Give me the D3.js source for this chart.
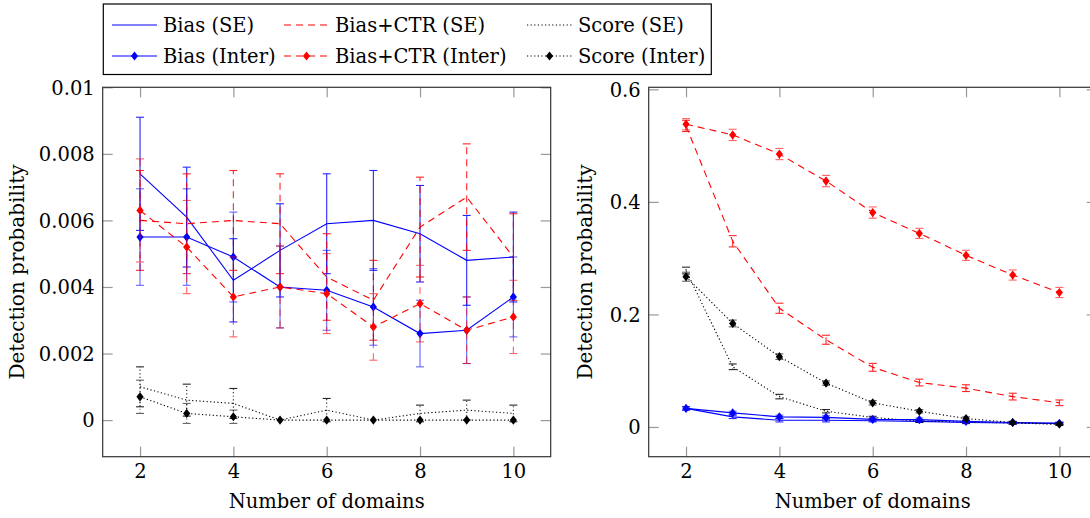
<!DOCTYPE html>
<html>
<head>
<meta charset="utf-8">
<script src="https://cdn.jsdelivr.net/npm/d3@7"></script>
<style>
  body { margin: 0; background: #fff; }
</style>
</head>
<body>
<div id="chart"></div>
<script>
const domains = [2, 3, 4, 5, 6, 7, 8, 9, 10];
const xTicks = [2, 4, 6, 8, 10];

// left panel
const leftBiasSE       = [0.0074, 0.0061, 0.0042, 0.0051, 0.0059, 0.0060, 0.0056, 0.0048, 0.0049];
const leftBiasSEErr    = [0.0017, 0.0015, 0.00125, 0.0014, 0.0015, 0.0015, 0.00145, 0.00135, 0.00135];
const leftCtrSE        = [0.0060, 0.0059, 0.0060, 0.0059, 0.0043, 0.0036, 0.0058, 0.0067, 0.0049];
const leftCtrSEErr     = [0.0015, 0.0015, 0.0015, 0.0015, 0.0013, 0.0012, 0.0015, 0.0016, 0.0013];
const leftScoreSE      = [0.0010, 0.0006, 0.0005, 0, 0.0003, 0, 0.0002, 0.0003, 0.0002];
const leftScoreSEErr   = [0.0006, 0.00048, 0.00045, 0, 0.00035, 0, 0.00025, 0.0003, 0.00025];
const leftBiasInter    = [0.0055, 0.0055, 0.0049, 0.0040, 0.0039, 0.0034, 0.0026, 0.0027, 0.0037];
const leftBiasInterErr = [0.00145, 0.00145, 0.00135, 0.00123, 0.0012, 0.00115, 0.0010, 0.0010, 0.0012];
const leftCtrInter     = [0.0063, 0.0052, 0.0037, 0.0040, 0.0038, 0.0028, 0.0035, 0.0027, 0.0031];
const leftCtrInterErr  = [0.00155, 0.0014, 0.0012, 0.00123, 0.0012, 0.0010, 0.00115, 0.0010, 0.0011];
const leftScoreInter   = [0.0007, 0.0002, 0.0001, 0, 0, 0, 0, 0, 0];
const leftScoreInterErr= [0.0005, 0.0003, 0.0002, 0, 0, 0, 0, 0, 0];
const leftYTicks = [0, 0.002, 0.004, 0.006, 0.008, 0.01];
const leftYTickLabels = ["0", "0.002", "0.004", "0.006", "0.008", "0.01"];

// right panel
const rightBiasSE       = [0.033, 0.018, 0.012, 0.012, 0.011, 0.010, 0.008, 0.007, 0.0065];
const rightBiasSEErr    = [0.003, 0.003, 0.003, 0.003, 0.002, 0.002, 0.002, 0.002, 0.002];
const rightCtrSE        = [0.535, 0.330, 0.211, 0.155, 0.106, 0.079, 0.069, 0.054, 0.043];
const rightCtrSEErr     = [0.010, 0.010, 0.009, 0.008, 0.007, 0.006, 0.006, 0.006, 0.005];
const rightScoreSE      = [0.278, 0.107, 0.054, 0.028, 0.017, 0.0105, 0.009, 0.007, 0.005];
const rightScoreSEErr   = [0.006, 0.005, 0.004, 0.003, 0.002, 0.002, 0.002, 0.002, 0.002];
const rightBiasInter    = [0.033, 0.025, 0.018, 0.017, 0.0135, 0.013, 0.010, 0.008, 0.0065];
const rightBiasInterErr = [0.003, 0.003, 0.003, 0.003, 0.003, 0.003, 0.002, 0.002, 0.002];
const rightCtrInter     = [0.538, 0.519, 0.485, 0.437, 0.381, 0.344, 0.305, 0.270, 0.239];
const rightCtrInterErr  = [0.010, 0.010, 0.010, 0.010, 0.010, 0.009, 0.009, 0.009, 0.009];
const rightScoreInter   = [0.267, 0.184, 0.125, 0.078, 0.043, 0.028, 0.015, 0.008, 0.005];
const rightScoreInterErr= [0.008, 0.006, 0.005, 0.004, 0.004, 0.003, 0.003, 0.002, 0.002];
const rightYTicks = [0, 0.2, 0.4, 0.6];
const rightYTickLabels = ["0", "0.2", "0.4", "0.6"];

const legendLabels = ["Bias (SE)", "Bias+CTR (SE)", "Score (SE)",
                      "Bias (Inter)", "Bias+CTR (Inter)", "Score (Inter)"];

// styles for the six series, in legend order
const styles = [
  {color: "#0000ff", dash: null,      mark: false},
  {color: "#ff0000", dash: "7,5",     mark: false},
  {color: "#000000", dash: "1.2,2.4", mark: false},
  {color: "#0000ff", dash: null,      mark: true},
  {color: "#ff0000", dash: "7,5",     mark: true},
  {color: "#000000", dash: "1.2,2.4", mark: true}
];

const serif = "DejaVu Serif";
const width = 1090, height = 518;
const svg = d3.select("#chart").append("svg")
  .attr("width", width).attr("height", height)
  .attr("font-family", serif);

const diamond = "M0,-4.6L3.6,0L0,4.6L-3.6,0Z";

function panel(opts) {
  const x = d3.scaleLinear().domain([1.2, 10.8]).range([opts.left, opts.left + 448]);
  const y = d3.scaleLinear().domain(opts.yDomain).range([456.7, 87.3]);
  const g = svg.append("g");

  // ticks point inward on all four sides
  const tickStyle = sel => {
    sel.attr("font-family", serif).attr("font-size", 19.5);
    sel.select(".domain").remove();
    sel.selectAll(".tick line").attr("stroke", "#999").attr("stroke-width", 1.2);
  };
  g.append("g").attr("transform", "translate(0,456.7)")
    .call(d3.axisBottom(x).tickValues(xTicks).tickSizeInner(-10).tickSizeOuter(0).tickPadding(0))
    .call(tickStyle)
    .call(s => s.selectAll("text").attr("dy", null).attr("y", 21.5));
  g.append("g").attr("transform", "translate(0,87.3)")
    .call(d3.axisTop(x).tickValues(xTicks).tickSizeInner(-10).tickSizeOuter(0).tickFormat(""))
    .call(tickStyle);
  g.append("g").attr("transform", `translate(${opts.left},0)`)
    .call(d3.axisLeft(y).tickValues(opts.yTicks).tickSizeInner(-10).tickSizeOuter(0).tickPadding(8)
      .tickFormat((d, i) => opts.yLabels[i]))
    .call(tickStyle)
    .call(s => s.selectAll("text").attr("dy", "0.35em"));
  g.append("g").attr("transform", `translate(${opts.left + 448},0)`)
    .call(d3.axisRight(y).tickValues(opts.yTicks).tickSizeInner(-10).tickSizeOuter(0).tickFormat(""))
    .call(tickStyle);

  g.append("rect")
    .attr("x", opts.left).attr("y", 87.3).attr("width", 448).attr("height", 369.4)
    .attr("fill", "none").attr("stroke", "#333").attr("stroke-width", 1.2);

  const line = d3.line().x(d => x(d.x)).y(d => y(d.v));
  opts.series.forEach((s, k) => {
    const st = styles[k];
    const pts = domains.map((d, i) => ({x: d, v: s.v[i], e: s.e[i]}));
    const sg = g.append("g");
    const eb = sg.append("g")
      .attr("stroke", st.color).attr("stroke-width", 1.1)
      .attr("stroke-dasharray", st.dash)
      .attr("opacity", st.mark ? 0.6 : 0.85);
    pts.filter(p => p.e > 0).forEach(p => {
      eb.append("line").attr("x1", x(p.x)).attr("x2", x(p.x))
        .attr("y1", y(p.v - p.e)).attr("y2", y(p.v + p.e));
      [p.v - p.e, p.v + p.e].forEach(c => {
        eb.append("line").attr("x1", x(p.x) - 4).attr("x2", x(p.x) + 4)
          .attr("y1", y(c)).attr("y2", y(c)).attr("stroke-dasharray", "none");
      });
    });
    sg.append("path").datum(pts).attr("d", line)
      .attr("fill", "none").attr("stroke", st.color).attr("stroke-width", 1.1)
      .attr("stroke-dasharray", st.dash);
    if (st.mark) {
      sg.selectAll("path.mk").data(pts).enter().append("path").attr("class", "mk")
        .attr("d", diamond).attr("fill", st.color)
        .attr("transform", p => `translate(${x(p.x)},${y(p.v)})`);
    }
  });

  g.append("text").attr("x", opts.left + 224).attr("y", 508)
    .attr("text-anchor", "middle").attr("font-size", 19.5).text("Number of domains");
  g.append("text").attr("transform", `translate(${opts.labelX},272) rotate(-90)`)
    .attr("text-anchor", "middle").attr("font-size", 20).text("Detection probability");
}

panel({
  left: 102.7, yDomain: [-0.0011, 0.01], yTicks: leftYTicks, yLabels: leftYTickLabels, labelX: 24,
  series: [
    {v: leftBiasSE, e: leftBiasSEErr}, {v: leftCtrSE, e: leftCtrSEErr}, {v: leftScoreSE, e: leftScoreSEErr},
    {v: leftBiasInter, e: leftBiasInterErr}, {v: leftCtrInter, e: leftCtrInterErr}, {v: leftScoreInter, e: leftScoreInterErr}
  ]
});
panel({
  left: 648.7, yDomain: [-0.0528, 0.6036], yTicks: rightYTicks, yLabels: rightYTickLabels, labelX: 592,
  series: [
    {v: rightBiasSE, e: rightBiasSEErr}, {v: rightCtrSE, e: rightCtrSEErr}, {v: rightScoreSE, e: rightScoreSEErr},
    {v: rightBiasInter, e: rightBiasInterErr}, {v: rightCtrInter, e: rightCtrInterErr}, {v: rightScoreInter, e: rightScoreInterErr}
  ]
});

// legend
const legend = svg.append("g");
legend.append("rect").attr("x", 103.3).attr("y", 4).attr("width", 608).attr("height", 70.5)
  .attr("fill", "#fff").attr("stroke", "#000").attr("stroke-width", 1.2);
const colX = [112, 284, 527];
const rowY = [25, 56];
legendLabels.forEach((lab, k) => {
  const st = styles[k];
  const cx = colX[k % 3], cy = rowY[Math.floor(k / 3)];
  legend.append("line").attr("x1", cx).attr("x2", cx + 45).attr("y1", cy).attr("y2", cy)
    .attr("stroke", st.color).attr("stroke-width", 1.1).attr("stroke-dasharray", st.dash);
  if (st.mark) {
    legend.append("path").attr("d", diamond).attr("fill", st.color)
      .attr("transform", `translate(${cx + 22.5},${cy})`);
  }
  legend.append("text").attr("x", cx + 51).attr("y", cy + 7.2)
    .attr("font-size", 19.5).text(lab);
});
</script>
</body>
</html>
